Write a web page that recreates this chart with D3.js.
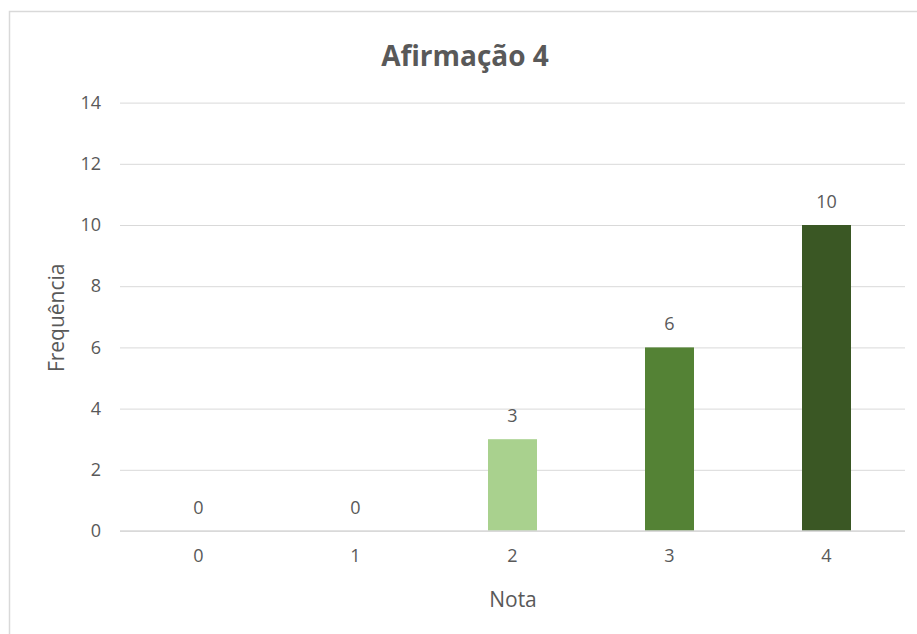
<!DOCTYPE html>
<html>
<head>
<meta charset="utf-8">
<script src="https://cdn.jsdelivr.net/npm/d3@7"></script>
<style>
  body { margin: 0; background: #fff; }
  text { font-family: "Open Sans", "Noto Sans", "Liberation Sans", sans-serif; fill: #595959; }
</style>
</head>
<body>
<svg id="chart" width="917" height="634"></svg>
<script>
// Frequency of each grade for statement 4
const categories = ["0", "1", "2", "3", "4"];
const values = [0, 0, 3, 6, 10];
const barColors = ["#A9D18E", "#A9D18E", "#A9D18E", "#548235", "#3A5724"];
const yTicks = [0, 2, 4, 6, 8, 10, 12, 14];

const FONT = "'Open Sans', 'Noto Sans', sans-serif";
const svg = d3.select("#chart");
const W = 917, H = 634;

// outer chart frame
svg.append("rect")
  .attr("x", 9.5).attr("y", 11.5)
  .attr("width", W + 10).attr("height", H + 10)
  .attr("fill", "#fff").attr("stroke", "#D9D9D9").attr("stroke-width", 1.5);

const plot = { left: 120, right: 905, top: 102.6, bottom: 531 };

const x = d3.scaleBand()
  .domain(categories)
  .range([plot.left, plot.right])
  .paddingInner(0.688)
  .paddingOuter(0.344);

const y = d3.scaleLinear()
  .domain([0, 14])
  .range([plot.bottom, plot.top]);

// horizontal gridlines with value ticks
const yAxis = d3.axisLeft(y).tickValues(yTicks).tickSize(-(plot.right - plot.left)).tickPadding(19);
const gy = svg.append("g").attr("transform", `translate(${plot.left},0)`).call(yAxis);
gy.select(".domain").remove();
gy.selectAll(".tick line").attr("stroke", "#D9D9D9").attr("stroke-width", 1);
gy.selectAll(".tick text").attr("font-size", 18).attr("fill", "#595959")
  .style("font-family", FONT);

// bars
svg.append("g").selectAll("rect")
  .data(values)
  .join("rect")
  .attr("x", (d, i) => x(categories[i]))
  .attr("y", d => y(d))
  .attr("width", x.bandwidth())
  .attr("height", d => y(0) - y(d))
  .attr("fill", (d, i) => barColors[i]);

// baseline
svg.append("line")
  .attr("x1", plot.left).attr("x2", plot.right)
  .attr("y1", y(0)).attr("y2", y(0))
  .attr("stroke", "#D9D9D9").attr("stroke-width", 1.5);

// value labels above each bar
svg.append("g").selectAll("text")
  .data(values)
  .join("text")
  .attr("x", (d, i) => x(categories[i]) + x.bandwidth() / 2)
  .attr("y", d => y(d) - 17)
  .attr("text-anchor", "middle")
  .attr("font-size", 18)
  .text(d => d);

// category labels
const xAxis = d3.axisBottom(x).tickSize(0).tickPadding(18);
const gx = svg.append("g").attr("transform", `translate(0,${plot.bottom})`).call(xAxis);
gx.select(".domain").remove();
gx.selectAll(".tick text").attr("font-size", 18).attr("fill", "#595959")
  .style("font-family", FONT);

// title
svg.append("text")
  .attr("x", 465).attr("y", 66)
  .attr("text-anchor", "middle")
  .attr("font-size", 28).attr("font-weight", "bold")
  .text("Afirmação 4");

// axis titles
svg.append("text")
  .attr("x", 513).attr("y", 607)
  .attr("text-anchor", "middle")
  .attr("font-size", 21)
  .text("Nota");

svg.append("text")
  .attr("transform", `translate(64,${(plot.top + plot.bottom) / 2 + 1}) rotate(-90)`)
  .attr("text-anchor", "middle")
  .attr("font-size", 21)
  .text("Frequência");
</script>
</body>
</html>
